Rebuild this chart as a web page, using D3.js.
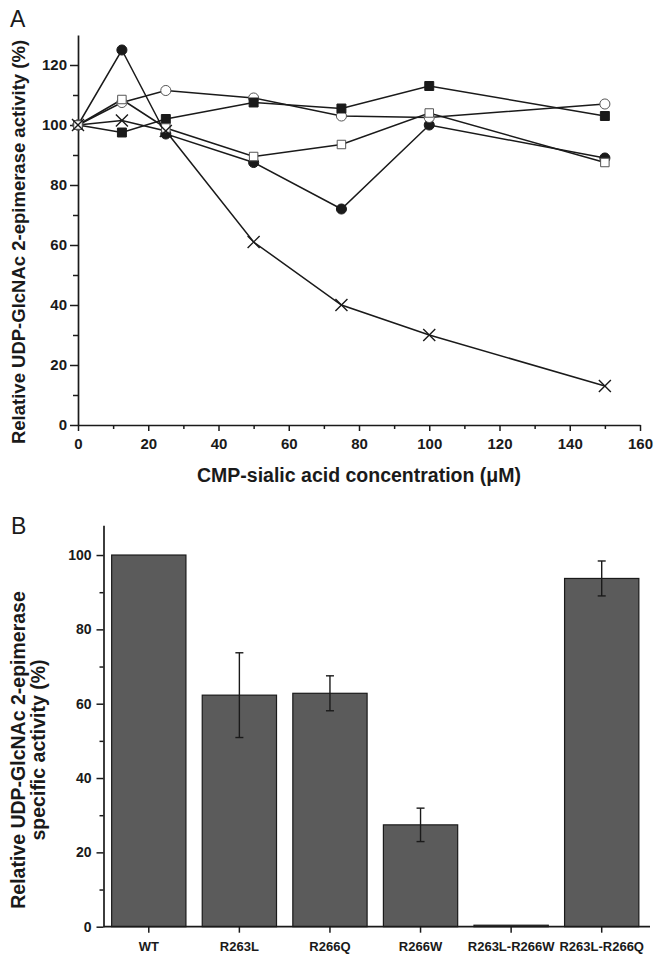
<!DOCTYPE html>
<meta charset="utf-8">
<script src="https://d3js.org/d3.v7.min.js"></script>
<style>
  body { margin: 0; background: #fff; }
  text { font-family: "Liberation Sans", Arial, sans-serif; }
</style>
<div id="chart"></div>
<script>
  // panel A data: CMP-sialic acid concentration (uM) vs relative activity (%)
  var conc = [0, 12.5, 25, 50, 75, 100, 150];
  var filledCircle = [100, 125, 97, 87.5, 72, 100, 89];
  var openCircle = [100, 107.5, 111.5, 109, 103, 102.5, 107];
  var filledSquare = [100, 97.5, 102, 107.5, 105.5, 113, 103];
  var openSquare = [100, 108.5, 99, 89.5, 93.5, 104, 87.5];
  var crossSeries = [100, 101.5, 98, 61, 40, 30, 13];

  // panel B data
  var mutants = ["WT", "R263L", "R266Q", "R266W", "R263L-R266W", "R263L-R266Q"];
  var activity = [100, 62.3, 62.8, 27.4, 0.4, 93.7];
  var activityErr = [0, 11.4, 4.7, 4.5, 0, 4.7];

  var xTicksA = [0, 20, 40, 60, 80, 100, 120, 140, 160];
  var yTicksA = [0, 20, 40, 60, 80, 100, 120];
  var yTicksB = [0, 20, 40, 60, 80, 100];

  var W = 654, H = 955;
  var svg = d3.select("#chart").append("svg")
    .attr("width", W).attr("height", H);

  var ink = "#1a1a1a";

  function styleAxis(g, fs) {
    g.select(".domain").attr("stroke", ink).attr("stroke-width", 1.7);
    g.selectAll(".tick line").attr("stroke", ink).attr("stroke-width", 1.5);
    g.selectAll(".tick text")
      .attr("fill", ink)
      .style("font-size", fs + "px")
      .style("font-weight", "bold");
  }

  // ---------------- Panel A ----------------
  var xA = d3.scaleLinear().domain([0, 160]).range([78, 640]);
  var yA = d3.scaleLinear().domain([0, 130]).range([425, 35]);

  // minor ticks
  svg.append("g")
    .attr("transform", "translate(0," + yA(0) + ")")
    .call(d3.axisBottom(xA).tickValues(d3.range(10, 160, 20)).tickSize(4).tickFormat(""))
    .call(function(g) { g.select(".domain").remove(); g.selectAll("line").attr("stroke", ink).attr("stroke-width", 1.5); });
  svg.append("g")
    .attr("transform", "translate(" + xA(0) + ",0)")
    .call(d3.axisLeft(yA).tickValues(d3.range(10, 130, 20)).tickSize(5).tickFormat(""))
    .call(function(g) { g.select(".domain").remove(); g.selectAll("line").attr("stroke", ink).attr("stroke-width", 1.5); });

  var gxA = svg.append("g")
    .attr("transform", "translate(0," + yA(0) + ")")
    .call(d3.axisBottom(xA).tickValues(xTicksA).tickSize(6).tickSizeOuter(0).tickPadding(7));
  styleAxis(gxA, 15);

  var gyA = svg.append("g")
    .attr("transform", "translate(" + xA(0) + ",0)")
    .call(d3.axisLeft(yA).tickValues(yTicksA).tickSize(8).tickSizeOuter(0).tickPadding(3));
  styleAxis(gyA, 15);

  svg.append("text")
    .attr("x", (xA(0) + xA(160)) / 2).attr("y", 482)
    .attr("text-anchor", "middle")
    .style("font-size", "19.5px").style("font-weight", "bold").attr("fill", ink)
    .text("CMP-sialic acid concentration (\u03bcM)");

  svg.append("text")
    .attr("transform", "translate(25,242) rotate(-90)")
    .attr("text-anchor", "middle")
    .style("font-size", "18.5px").style("font-weight", "bold").attr("fill", ink)
    .text("Relative UDP-GlcNAc 2-epimerase activity (%)");

  svg.append("text").attr("x", 10).attr("y", 27)
    .style("font-size", "23px").attr("fill", ink).text("A");

  var seriesA = [
    {vals: filledCircle, shape: d3.symbolCircle, size: 80, fill: ink},
    {vals: openCircle, shape: d3.symbolCircle, size: 80, fill: "#fff"},
    {vals: filledSquare, shape: d3.symbolSquare, size: 80, fill: ink},
    {vals: openSquare, shape: d3.symbolSquare, size: 72, fill: "#fff"},
    {vals: crossSeries, shape: d3.symbolX, size: 96, fill: "none"}
  ];

  var line = d3.line()
    .x(function(d, i) { return xA(conc[i]); })
    .y(function(d) { return yA(d); });

  seriesA.forEach(function(s) {
    svg.append("path")
      .attr("d", line(s.vals))
      .attr("fill", "none")
      .attr("stroke", ink)
      .attr("stroke-width", 1.5);
  });

  seriesA.forEach(function(s) {
    svg.selectAll(null)
      .data(s.vals)
      .enter()
      .append("path")
        .attr("d", d3.symbol().type(s.shape).size(s.size))
        .attr("transform", function(d, i) { return "translate(" + xA(conc[i]) + "," + yA(d) + ")"; })
        .attr("fill", s.fill)
        .attr("stroke", s.fill === "#fff" ? "#555" : ink)
        .attr("stroke-width", s.fill === "none" ? 1.4 : 1);
  });

  // ---------------- Panel B ----------------
  var xB = d3.scaleBand().domain(mutants).range([103.5, 647]).paddingInner(0.18).paddingOuter(0.09);
  var yB = d3.scaleLinear().domain([0, 108]).range([926.7, 525.3]);

  svg.append("g")
    .attr("transform", "translate(" + xB.range()[0] + ",0)")
    .call(d3.axisLeft(yB).tickValues(d3.range(10, 100, 20)).tickSize(4).tickFormat(""))
    .call(function(g) { g.select(".domain").remove(); g.selectAll("line").attr("stroke", ink).attr("stroke-width", 1.5); });

  svg.selectAll(".bar")
    .data(activity)
    .enter()
    .append("rect")
      .attr("class", "bar")
      .attr("x", function(d, i) { return xB(mutants[i]); })
      .attr("width", xB.bandwidth())
      .attr("y", function(d) { return yB(d); })
      .attr("height", function(d) { return yB(0) - yB(d); })
      .attr("fill", "#5b5b5b")
      .attr("stroke", ink)
      .attr("stroke-width", 1.2);

  // error bars
  var errG = svg.append("g");
  activity.forEach(function(v, i) {
    if (!activityErr[i]) return;
    var cx = xB(mutants[i]) + xB.bandwidth() / 2;
    var top = yB(v + activityErr[i]), bot = yB(v - activityErr[i]);
    errG.append("line").attr("x1", cx).attr("x2", cx).attr("y1", top).attr("y2", bot);
    errG.append("line").attr("x1", cx - 4).attr("x2", cx + 4).attr("y1", top).attr("y2", top);
    errG.append("line").attr("x1", cx - 4).attr("x2", cx + 4).attr("y1", bot).attr("y2", bot);
  });
  errG.selectAll("line").attr("stroke", ink).attr("stroke-width", 1.4);

  var gxB = svg.append("g")
    .attr("transform", "translate(0," + yB(0) + ")")
    .call(d3.axisBottom(xB).tickSize(6).tickSizeOuter(0).tickPadding(9));
  styleAxis(gxB, 13);
  gxB.select(".domain").attr("d", "M" + xB.range()[0] + ",0H650");

  var gyB = svg.append("g")
    .attr("transform", "translate(" + xB.range()[0] + ",0)")
    .call(d3.axisLeft(yB).tickValues(yTicksB).tickSize(7).tickSizeOuter(0).tickPadding(5));
  styleAxis(gyB, 14);

  var yTitleB = svg.append("text")
    .attr("transform", "translate(25,750) rotate(-90)")
    .attr("text-anchor", "middle")
    .style("font-size", "19.5px").style("font-weight", "bold").attr("fill", ink);
  yTitleB.append("tspan").attr("x", 0).attr("dy", 0).text("Relative UDP-GlcNAc 2-epimerase");
  yTitleB.append("tspan").attr("x", 0).attr("dy", 20).text("specific activity (%)");

  svg.append("text").attr("x", 11).attr("y", 534)
    .style("font-size", "23px").attr("fill", ink).text("B");
</script>
